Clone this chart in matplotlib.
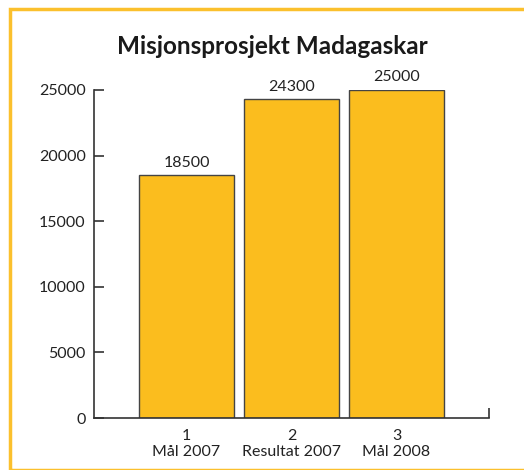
import matplotlib
matplotlib.use("Agg")
import matplotlib.pyplot as plt
from matplotlib.patches import Rectangle

categories = ["1\nMål 2007", "2\nResultat 2007", "3\nMål 2008"]
values = [18500, 24300, 25000]
yticks = [0, 5000, 10000, 15000, 20000, 25000]
title = "Misjonsprosjekt Madagaskar"

plt.rcParams['font.family'] = ['Lato', 'DejaVu Sans']
txt = '#222222'
bar_col = '#FBBD1E'
border_col = '#FBC02D'

fig = plt.figure(figsize=(5.24, 4.70), dpi=100)
fig.patches.append(Rectangle((10/524, 0), 1.0, 1 - 9/470, transform=fig.transFigure,
                             fill=False, edgecolor=border_col, linewidth=2.5, clip_on=False))

ax = fig.add_axes([94/524, 52/470, (489-94)/524, (418-90)/470])
x = list(range(1, len(values) + 1))
bars = ax.bar(x, values, width=0.9, color=bar_col, edgecolor='#444444', linewidth=1.0)
for xi, v in zip(x, values):
    ax.annotate(f"{v}", (xi, v), xytext=(0, 4), textcoords='offset points',
                ha='center', va='bottom', fontsize=11.5, color=txt)

ax.set_xlim(0.12, 3.88)
ax.set_ylim(0, 25000)
ax.set_yticks(yticks)
ax.set_yticklabels([str(t) for t in yticks])
ax.set_xticks(x)
ax.set_xticklabels(categories, linespacing=1.2)
ax.tick_params(axis='x', length=0, pad=8, labelsize=11.5, labelcolor=txt)
ax.tick_params(axis='y', direction='in', length=7, width=1.2, pad=6, labelsize=11.5,
               labelcolor=txt, color='#333333')
ax.set_xticks([3.88], minor=True)
ax.tick_params(axis='x', which='minor', direction='in', length=7, width=1.2, color='#333333')
for s in ['top', 'right']:
    ax.spines[s].set_visible(False)
for s in ['left', 'bottom']:
    ax.spines[s].set_color('#333333')
    ax.spines[s].set_linewidth(1.2)

fig.text(272/524, 1 - 47/470, title, ha='center', va='center', fontsize=17.5,
         fontweight='bold', color='#1a1a1a')

fig.savefig("out.png", dpi=100)
